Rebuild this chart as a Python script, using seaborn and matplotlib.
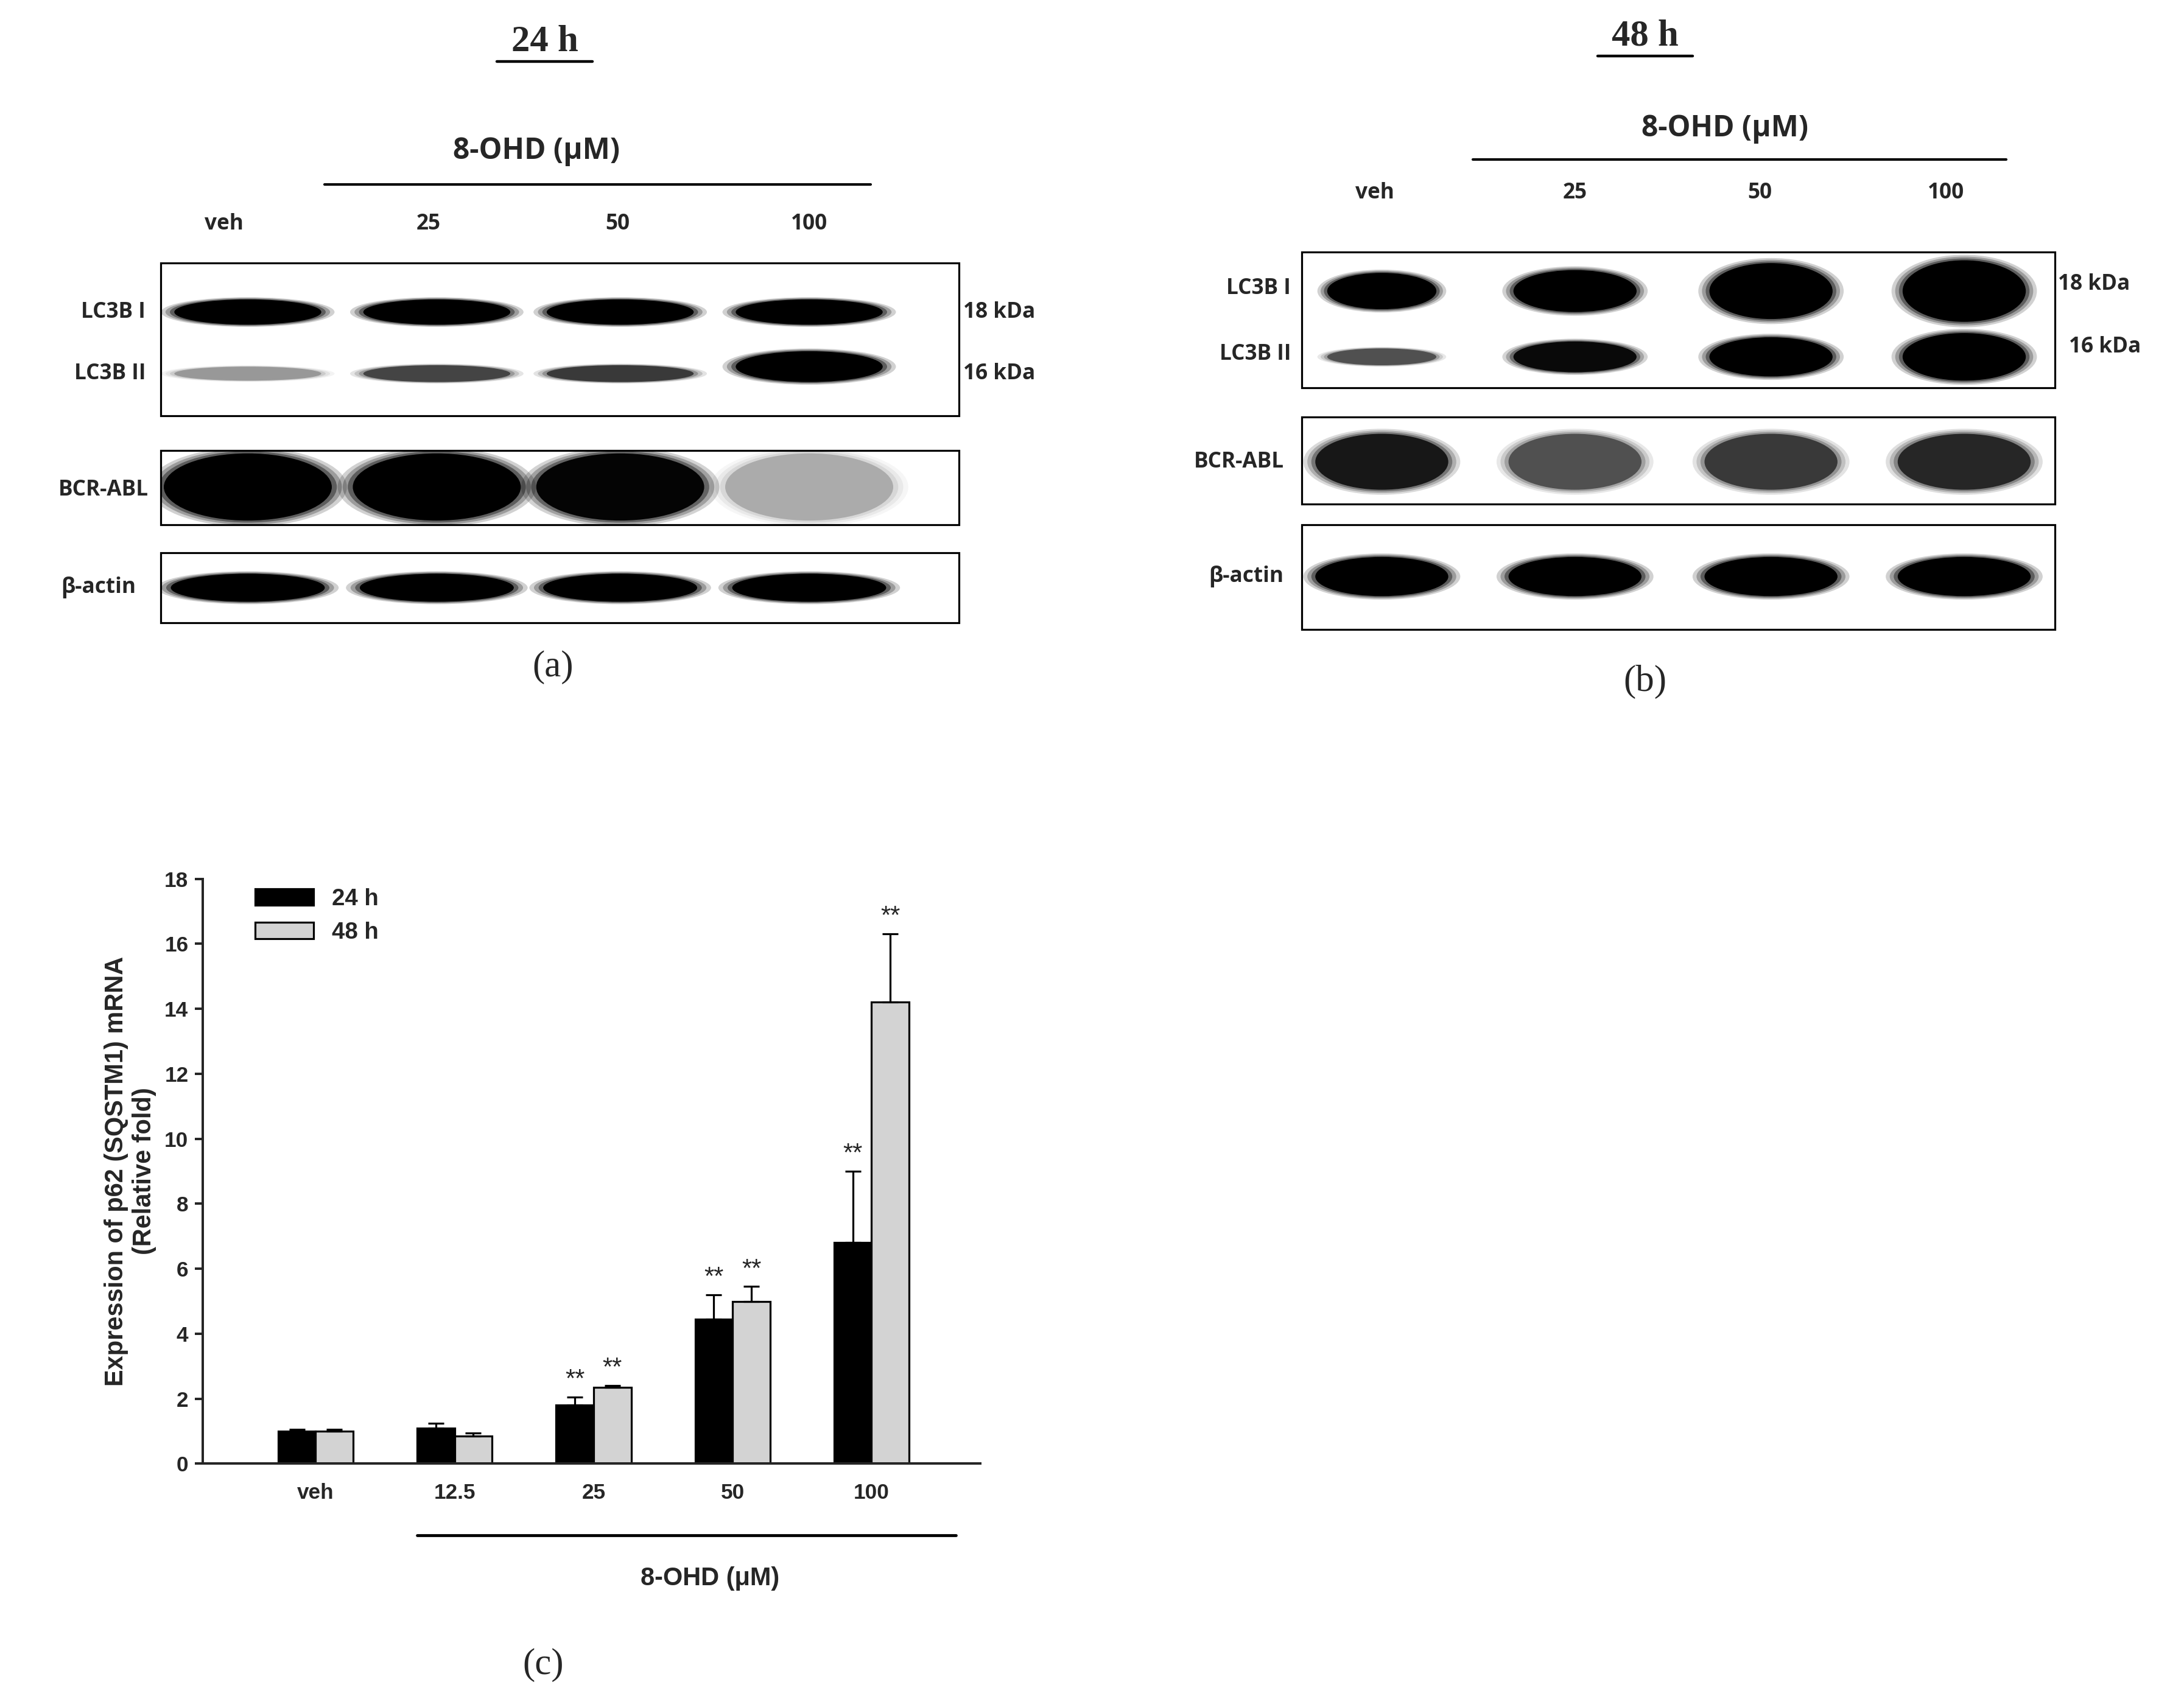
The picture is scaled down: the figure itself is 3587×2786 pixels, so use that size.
import matplotlib
matplotlib.use("Agg")
import matplotlib.pyplot as plt
import seaborn as sns
import pandas as pd
import numpy as np
from matplotlib.patches import Ellipse, Rectangle

doses = ["veh", "12.5", "25", "50", "100"]
mean_24 = [1.0, 1.1, 1.8, 4.45, 6.8]
err_24 = [0.05, 0.15, 0.25, 0.75, 2.2]
mean_48 = [1.0, 0.85, 2.35, 5.0, 14.2]
err_48 = [0.05, 0.1, 0.05, 0.45, 2.1]
sig_24 = ["", "", "**", "**", "**"]
sig_48 = ["", "", "**", "**", "**"]

sns.set_theme(style="ticks")
plt.rcParams['font.family'] = ['Liberation Sans', 'DejaVu Sans']

W, H = 1560, 1212
fig = plt.figure(figsize=(3587/230, 2786/230), dpi=230)
bg = fig.add_axes([0, 0, 1, 1]); bg.set_xlim(0, W); bg.set_ylim(H, 0); bg.axis("off")

lab = dict(fontsize=11, fontweight="bold", family=["Open Sans", "DejaVu Sans"])
serif = dict(family=["Liberation Serif"], fontsize=19)

def band(x, y, w, h, a=1.0, clip=None):
    for k in range(4):
        s = 1 + k*0.06
        e = Ellipse((x, y), w*s, h*s, color="black", alpha=a/(1+k*1.5), lw=0)
        bg.add_patch(e)
        if clip is not None:
            e.set_clip_path(clip)

def box(x0, y0, x1, y1):
    r = Rectangle((x0, y0), x1-x0, y1-y0, fill=False, ec="black", lw=1, zorder=5)
    bg.add_patch(r)
    c = Rectangle((x0, y0), x1-x0, y1-y0, fill=False, lw=0)
    bg.add_patch(c)
    return c

# panel a
bg.text(389, 30, "24 h", ha="center", va="center", fontweight="bold", **serif)
bg.plot([355, 423], [44, 44], color="black", lw=1.4)
bg.text(383, 108, "8-OHD (\u03bcM)", ha="center", va="center", **{**lab, "fontsize": 15})
bg.plot([232, 622], [132, 132], color="black", lw=1.3)
for x, t in zip([160, 306, 441, 578], ["veh", "25", "50", "100"]):
    bg.text(x, 160, t, ha="center", va="center", **lab)
clips = [box(115, y0, 685, y1) for y0, y1 in [(188, 297), (322, 375), (395, 445)]]
xs = [177, 312, 443, 578]
for x, a2, h2 in zip(xs, [0.25, 0.55, 0.6, 1.0], [10, 12, 12, 22]):
    band(x, 223, 105, 18, clip=clips[0])
    band(x, 267 if h2 < 20 else 262, 105, h2, a2, clip=clips[0])
for x, a in zip(xs, [1, 1, 0.95, 0.2]):
    band(x, 348, 120, 48, a, clip=clips[1])
for x in xs:
    band(x, 420, 110, 20, clip=clips[2])
bg.text(104, 223, "LC3B I", ha="right", va="center", **lab)
bg.text(104, 267, "LC3B II", ha="right", va="center", **lab)
bg.text(106, 350, "BCR-ABL", ha="right", va="center", **lab)
bg.text(97, 420, "\u03b2-actin", ha="right", va="center", **lab)
bg.text(688, 223, "18 kDa", ha="left", va="center", **lab)
bg.text(688, 267, "16 kDa", ha="left", va="center", **lab)
bg.text(395, 477, "(a)", ha="center", va="center", **serif)

# panel b
bg.text(1175, 26, "48 h", ha="center", va="center", fontweight="bold", **serif)
bg.plot([1141, 1209], [40, 40], color="black", lw=1.4)
bg.text(1232, 92, "8-OHD (\u03bcM)", ha="center", va="center", **{**lab, "fontsize": 15})
bg.plot([1052, 1433], [114, 114], color="black", lw=1.3)
for x, t in zip([982, 1125, 1257, 1390], ["veh", "25", "50", "100"]):
    bg.text(x, 138, t, ha="center", va="center", **lab)
clips = [box(930, y0, 1468, y1) for y0, y1 in [(180, 277), (298, 360), (375, 450)]]
xs = [987, 1125, 1265, 1403]
for x, h1, h2, a2 in zip(xs, [26, 30, 40, 44], [12, 22, 28, 34], [0.5, 0.9, 1, 1]):
    band(x, 208, 78 if x < 1000 else 88, h1, clip=clips[0])
    band(x, 255, 78 if x < 1000 else 88, h2, a2, clip=clips[0])
for x, a in zip(xs, [0.8, 0.5, 0.6, 0.7]):
    band(x, 330, 95, 40, a, clip=clips[1])
for x in xs:
    band(x, 412, 95, 28, clip=clips[2])
bg.text(922, 206, "LC3B I", ha="right", va="center", **lab)
bg.text(922, 253, "LC3B II", ha="right", va="center", **lab)
bg.text(917, 330, "BCR-ABL", ha="right", va="center", **lab)
bg.text(917, 412, "\u03b2-actin", ha="right", va="center", **lab)
bg.text(1470, 203, "18 kDa", ha="left", va="center", **lab)
bg.text(1478, 248, "16 kDa", ha="left", va="center", **lab)
bg.text(1175, 487, "(b)", ha="center", va="center", **serif)
bg.text(388, 1190, "(c)", ha="center", va="center", **serif)

# panel c bar chart
df = pd.DataFrame({
    "dose": doses * 2,
    "value": mean_24 + mean_48,
    "time": ["24 h"] * 5 + ["48 h"] * 5,
})
ax = fig.add_axes([145/W, 1-1046/H, (700-145)/W, (1046-628)/H])
sns.barplot(data=df, x="dose", y="value", hue="time", palette=["black", "#d3d3d3"],
            width=0.54, edgecolor="black", linewidth=1, ax=ax, errorbar=None)
bars = [p for p in ax.patches if p.get_height() > 0]
b24 = bars[:5]; b48 = bars[5:10]
for bs, m, e, s in [(b24, mean_24, err_24, sig_24), (b48, mean_48, err_48, sig_48)]:
    for p, mv, ev, sv in zip(bs, m, e, s):
        xc = p.get_x() + p.get_width()/2
        ax.errorbar([xc], [mv], yerr=[[0], [ev]], color="black", capsize=4, lw=1, capthick=1)
        if sv:
            ax.text(xc, mv + ev + 0.15, sv, ha="center", va="bottom", fontsize=13)
ax.set_xlim(-0.81, 4.78)
ax.set_ylim(0, 18)
ax.set_yticks(range(0, 19, 2))
ax.set_xlabel(""); ax.set_ylabel("Expression of p62 (SQSTM1) mRNA\n(Relative fold)",
                                 fontsize=13, fontweight="bold")
ax.tick_params(labelsize=11, direction="out", length=4)
for t in ax.get_xticklabels() + ax.get_yticklabels():
    t.set_fontweight("bold")
ax.tick_params(axis="x", length=0, pad=10)
sns.despine(ax=ax)
ax.legend(loc="upper left", bbox_to_anchor=(0.04, 1.02), frameon=False,
          prop={"size": 12, "weight": "bold"}, handlelength=2.5)
bg.plot([298, 683], [1097, 1097], color="black", lw=1.5)
bg.text(507, 1128, "8-OHD (\u03bcM)", ha="center", va="center", fontsize=13, fontweight="bold")

fig.savefig("out.png", dpi=230)
